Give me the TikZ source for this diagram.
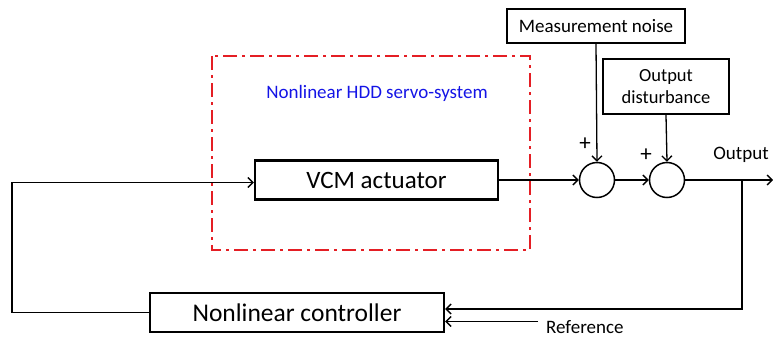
\documentclass[tikz,border=0pt]{standalone}
\usepackage{fontspec}
\setmainfont{Carlito}
\usetikzlibrary{arrows.meta}
\definecolor{hddred}{RGB}{228,30,36}
\definecolor{hddblue}{RGB}{20,20,230}
\tikzset{
  blk/.style={draw=black, line width=2.4pt, fill=white, inner sep=0pt},
  sumnode/.style={draw=black, line width=1.5pt, circle, minimum size=35pt, inner sep=0pt},
  conn/.style={line width=1.3pt, -{Straight Barb[length=5pt,width=10pt,line width=1.3pt]}},
  lbl/.style={inner sep=0pt, font=\fontsize{19}{21}\selectfont},
  plus/.style={inner sep=0pt, font=\fontsize{23}{25}\selectfont},
}
\begin{document}
\begin{tikzpicture}[x=1pt,y=-1pt]
\useasboundingbox (0,0) rectangle (773,337);
% red dash-dot boundary
\draw[hddred, line width=2.7pt, dash pattern=on 14pt off 5pt on 3pt off 5pt] (212,56) rectangle (530,250);
\node[text=hddblue, inner sep=0pt, font=\fontsize{19}{21}\selectfont] (title) at (377,93) {Nonlinear HDD servo-system};
% blocks
\node[blk, minimum width=243pt, minimum height=39pt, font=\fontsize{25}{28}\selectfont] (vcm) at (376.5,180) {VCM actuator};
\node[blk, minimum width=294pt, minimum height=39pt, font=\fontsize{25.5}{28}\selectfont] (ctrl) at (297,312.5) {Nonlinear controller};
\node[blk, minimum width=178pt, minimum height=34pt, font=\fontsize{19}{21}\selectfont] (meas) at (596,26) {Measurement noise};
\node[blk, minimum width=126pt, minimum height=55pt, align=center, font=\fontsize{18.5}{22}\selectfont] (dist) at (666,86.5) {Output\\disturbance};
\node[sumnode] (s1) at (597,180) {};
\node[sumnode] (s2) at (667,180) {};
\node[plus] (p1) at (585,144) {+};
\node[plus] (p2) at (646,155) {+};
\node[lbl] (outl) at (741,155) {Output};
\coordinate (outend) at (773,180);
\coordinate (tap) at (742,180);
\coordinate (refstart) at (538,321.5);
\coordinate (leftc) at (12,312.5);
\node[lbl, anchor=west] (ref) at (546,327) {Reference};
% connectors
\draw[conn] (vcm.east) -- (s1.west);
\draw[conn] (s1.east) -- (s2.west);
\draw[conn] (s2.east) -- (outend);
\draw[conn] (meas.south) -- (s1.north);
\draw[conn] (dist.south) -- (s2.north);
\draw[conn] (tap) |- ([yshift=3.5pt]ctrl.east);
\draw[conn] (refstart) -- ([yshift=-9pt]ctrl.east);
\draw[conn] (ctrl.west) -- (leftc) |- ([yshift=-2.5pt]vcm.west);
\end{tikzpicture}
\end{document}
